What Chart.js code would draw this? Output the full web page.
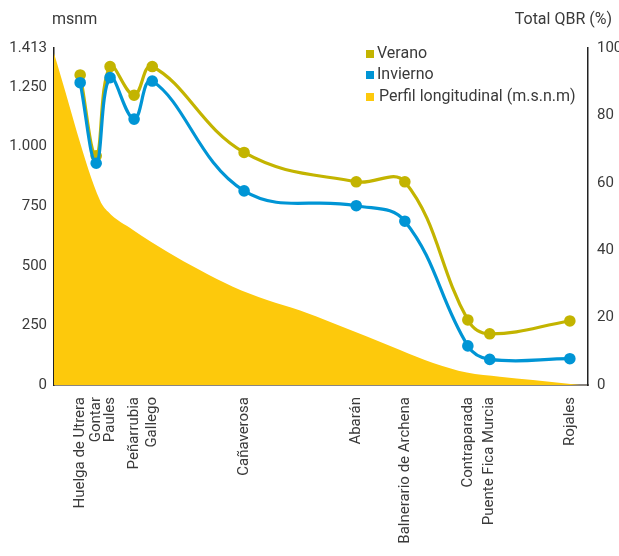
<!DOCTYPE html>
<html>
<head>
<meta charset="utf-8">
<script src="https://cdn.jsdelivr.net/npm/chart.js@4.4.1/dist/chart.umd.min.js"></script>
<style>
  html, body { margin: 0; padding: 0; background: #fff; }
  #wrap { width: 619px; height: 556px; }
</style>
</head>
<body>
<div id="wrap"><canvas id="line-chart" width="619" height="556"></canvas></div>
<script>
// estaciones y su posicion a lo largo del rio (% del recorrido)
const estaciones = [
    "Huelga de Utrera", "Gontar", "Paules", "Peñarrubia", "Gallego",
    "Cañaverosa", "Abarán", "Balnerario de Archena", "Contraparada",
    "Puente Fica Murcia", "Rojales"
];
const posicion = [4.9, 7.9, 10.5, 15.0, 18.4, 35.6, 56.6, 65.7, 77.5, 81.6, 96.6];

// QBR total (%)
const verano   = [92, 68, 94.5, 86, 94.5, 69, 60.3, 60.3, 19.3, 15.2, 19];
const invierno = [89.7, 65.8, 91.2, 78.9, 90.2, 57.6, 53.2, 48.6, 11.6, 7.6, 7.8];

// perfil longitudinal (m.s.n.m)
const perfilX = [0, 8.6, 10.1, 14.8, 21.2, 27.3, 33.5, 39.9, 46.1, 52.2, 58.6, 64.8, 71.0, 77.3, 83.5, 89.7, 98.5];
const perfilY = [1390, 775, 727, 650, 559, 482, 412, 356, 312, 260, 203, 147, 92, 52, 35, 21, 0];

const ticksMsnm = [0, 250, 500, 750, 1000, 1250, 1413];

const colVerano = "#C3B400";
const colInvierno = "#0095D5";
const colPerfil = "#FDC90C";
const txt = "#3a3a3a";
const fontFam = "Roboto, 'Liberation Sans', sans-serif";

function miles(v) {
    let s = String(Math.round(v));
    if (s.length > 3) s = s.slice(0, s.length - 3) + "." + s.slice(-3);
    return s;
}

function showGraph() {
    let pts = (xs, ys) => xs.map((x, i) => ({ x: x, y: ys[i] }));

    let chartdata = {
        datasets: [{
            label: "Invierno",
            data: pts(posicion, invierno),
            yAxisID: "y1",
            borderColor: colInvierno,
            backgroundColor: colInvierno,
            borderWidth: 3.2,
            pointRadius: 4.2,
            tension: 0.4,
            fill: false,
            order: 0
        }, {
            label: "Verano",
            data: pts(posicion, verano),
            yAxisID: "y1",
            borderColor: colVerano,
            backgroundColor: colVerano,
            borderWidth: 3.2,
            pointRadius: 4.2,
            tension: 0.4,
            fill: false,
            order: 1
        }, {
            label: "Perfil longitudinal (m.s.n.m)",
            data: pts(perfilX, perfilY),
            yAxisID: "y",
            borderWidth: 0,
            borderColor: colPerfil,
            backgroundColor: colPerfil,
            pointRadius: 0,
            cubicInterpolationMode: "monotone",
            fill: "origin",
            order: 2
        }]
    };

    // leyenda y titulos de eje dibujados a mano
    const extras = {
        id: "extras",
        afterDraw(chart) {
            const ctx = chart.ctx;
            ctx.save();
            ctx.fillStyle = txt;
            ctx.textBaseline = "middle";
            ctx.font = "16px " + fontFam;
            ctx.textAlign = "left";
            ctx.fillText("msnm", 52, 20);
            ctx.textAlign = "right";
            ctx.fillText("Total QBR (%)", 612, 20);

            const items = [
                ["Verano", colVerano, 54, 377],
                ["Invierno", colInvierno, 75, 377],
                ["Perfil longitudinal (m.s.n.m)", colPerfil, 97, 379]
            ];
            ctx.font = "16px " + fontFam;
            ctx.textAlign = "left";
            items.forEach(it => {
                ctx.fillStyle = it[1];
                ctx.fillRect(366, it[2] - 4, 8, 8);
                ctx.fillStyle = txt;
                ctx.fillText(it[0], it[3], it[2]);
            });
            ctx.restore();
        }
    };

    let graphTarget = document.querySelector("#line-chart");

    let lineGraph = new Chart(graphTarget, {
        type: "line",
        data: chartdata,
        plugins: [extras],
        options: {
            responsive: false,
            animation: false,
            layout: { padding: { top: 48, left: 0, right: 0, bottom: 0 } },
            plugins: {
                legend: { display: false },
                tooltip: { enabled: false }
            },
            scales: {
                x: {
                    type: "linear",
                    min: 0,
                    max: 100,
                    grid: { display: false, drawTicks: false },
                    border: { color: "#8a8580", width: 2 },
                    afterBuildTicks: s => { s.ticks = posicion.map(v => ({ value: v })); },
                    afterFit: s => { s.height = 171; },
                    ticks: {
                        autoSkip: false,
                        minRotation: 90,
                        maxRotation: 90,
                        padding: 12,
                        color: txt,
                        font: { family: fontFam, size: 15 },
                        callback: (v, i) => estaciones[i]
                    }
                },
                y: {
                    position: "left",
                    min: 0,
                    max: 1413,
                    grid: { display: false, drawTicks: true, tickLength: 4, tickColor: "#222" },
                    border: { color: "#222", width: 1.5 },
                    afterBuildTicks: s => { s.ticks = ticksMsnm.map(v => ({ value: v })); },
                    afterFit: s => { s.width = 54; },
                    ticks: {
                        padding: 3,
                        color: txt,
                        font: { family: fontFam, size: 15 },
                        callback: v => miles(v)
                    }
                },
                y1: {
                    position: "right",
                    min: 0,
                    max: 100,
                    grid: { display: false, drawTicks: true, tickLength: 4, tickColor: "#222" },
                    border: { color: "#222", width: 1.5 },
                    afterFit: s => { s.width = 31; },
                    ticks: {
                        stepSize: 20,
                        padding: 5,
                        color: txt,
                        font: { family: fontFam, size: 15 }
                    }
                }
            }
        }
    });
}

showGraph();
</script>
</body>
</html>
